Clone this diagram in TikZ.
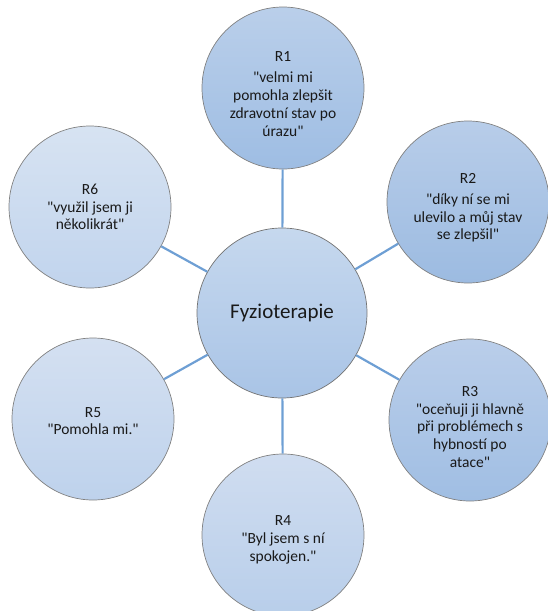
\documentclass[tikz,border=0pt]{standalone}
\usepackage{fontspec}
\setmainfont{Carlito}
\newcommand{\qq}{\textquotedbl}
\definecolor{linkblue}{HTML}{6E9FD4}
\definecolor{hubtop}{HTML}{C6D8EE}
\definecolor{hubbot}{HTML}{A9C4E6}
\tikzset{
  sat/.style={circle, draw=black!50, line width=0.7pt, minimum size=162pt, inner sep=0pt},
  sattext/.style={align=center, inner sep=0pt, font=\fontsize{15.5}{17.8}\selectfont, text=black!90},
  hub/.style={circle, draw=black!55, line width=0.7pt, minimum size=170pt, inner sep=0pt,
    top color=hubtop, bottom color=hubbot, font=\fontsize{21}{24}\selectfont, text=black!90},
  link/.style={draw=linkblue, line width=2.2pt}
}
\begin{document}
\begin{tikzpicture}[x=1pt,y=-1pt]
\useasboundingbox (0,0) rectangle (547,611);
\node[hub] (c) at (282,313) {Fyzioterapie};
\node[sat, top color={rgb,255:red,186;green,207;blue,234}, bottom color={rgb,255:red,158;green,189;blue,227}] (r1) at (283,88) {};
\node[sat, top color={rgb,255:red,184;green,205;blue,233}, bottom color={rgb,255:red,156;green,187;blue,225}] (r2) at (468,202) {};
\node[sat, top color={rgb,255:red,186;green,206;blue,234}, bottom color={rgb,255:red,160;green,190;blue,227}] (r3) at (470,420) {};
\node[sat, top color={rgb,255:red,208;green,221;blue,240}, bottom color={rgb,255:red,184;green,206;blue,234}] (r4) at (283,535) {};
\node[sat, top color={rgb,255:red,212;green,224;blue,241}, bottom color={rgb,255:red,190;green,210;blue,236}] (r5) at (93,419) {};
\node[sat, top color={rgb,255:red,215;green,227;blue,242}, bottom color={rgb,255:red,193;green,212;blue,237}] (r6) at (90,207) {};
\node[sattext] (t1) at ([yshift=-6pt]r1.center) {R1\\[3pt]\qq velmi mi\\pomohla zlepšit\\zdravotní stav po\\úrazu\qq};
\node[sattext] (t2) at ([yshift=-6pt]r2.center) {R2\\[3pt]\qq díky ní se mi\\ulevilo a můj stav\\se zlepšil\qq};
\node[sattext] (t3) at ([yshift=-7pt]r3.center) {R3\\\qq oceňuji ji hlavně\\při problémech s\\hybností po\\atace\qq};
\node[sattext] (t4) at ([yshift=-5pt]r4.center) {R4\\\qq Byl jsem s ní\\spokojen.\qq};
\node[sattext] (t5) at ([yshift=-2pt]r5.center) {R5\\\qq Pomohla mi.\qq};
\node[sattext] (t6) at (r6.center) {R6\\\qq využil jsem ji\\několikrát\qq};
\foreach \r in {r1,r2,r3,r4,r5,r6}{\path[link] (c) -- (\r);}
\end{tikzpicture}
\end{document}
